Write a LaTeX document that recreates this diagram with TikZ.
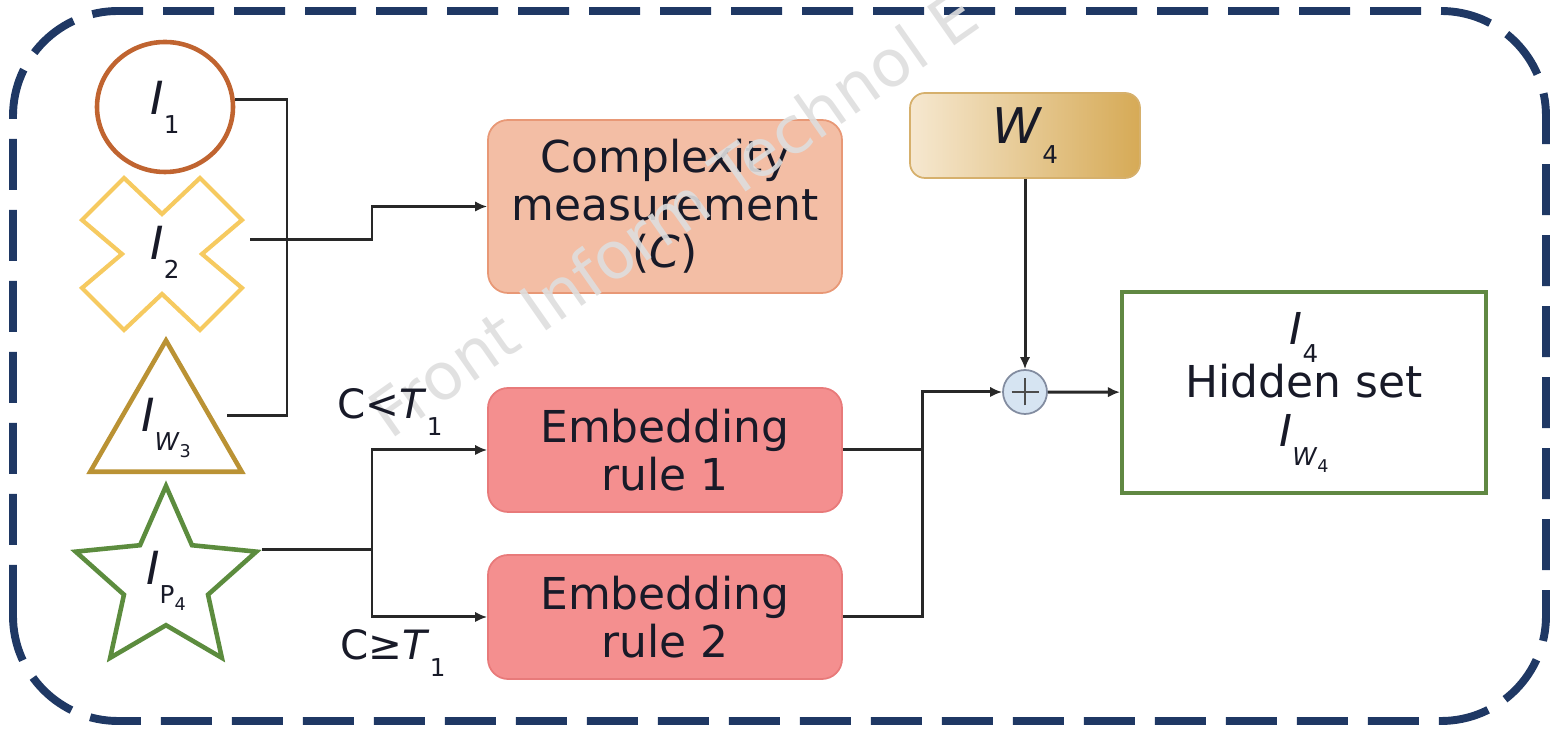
\documentclass[tikz,border=0pt]{standalone}
\usepackage{fontspec}
\setmainfont{DejaVu Sans}
\usetikzlibrary{shapes.geometric, arrows.meta}

\definecolor{framecol}{RGB}{31,56,100}
\definecolor{ringcol}{RGB}{192,100,48}
\definecolor{crosscol}{RGB}{246,202,96}
\definecolor{tricol}{RGB}{186,146,52}
\definecolor{starcol}{RGB}{92,140,62}
\definecolor{cfill}{RGB}{243,190,165}
\definecolor{cline}{RGB}{232,152,118}
\definecolor{efill}{RGB}{244,143,143}
\definecolor{eline}{RGB}{232,122,122}
\definecolor{wleft}{RGB}{246,232,208}
\definecolor{wright}{RGB}{214,170,86}
\definecolor{wline}{RGB}{214,176,108}
\definecolor{pfill}{RGB}{214,228,242}
\definecolor{pline}{RGB}{130,140,160}
\definecolor{hline}{RGB}{96,136,66}
\definecolor{wirecol}{RGB}{40,40,40}
\definecolor{textcol}{RGB}{24,26,40}
\definecolor{wmarkcol}{RGB}{222,222,222}

\newcommand{\sbig}{\fontsize{25}{27}\selectfont}
\newcommand{\lowsub}[1]{\raisebox{-0.42em}{\fontsize{14}{14}\selectfont #1}}
\newcommand{\lowsubsub}[1]{\raisebox{-0.3em}{\fontsize{10}{10}\selectfont #1}}

\tikzset{
    wire/.style={draw=wirecol, line width=1.7pt},
    arr/.style={wire, -{Latex[length=2.4mm, width=2.1mm]}},
    ring/.style={ellipse, draw=ringcol, line width=2.6pt, minimum width=2.72cm, minimum height=2.6cm, inner sep=0pt, text=textcol, font=\fontsize{26}{26}\selectfont},
    tri/.style={regular polygon, regular polygon sides=3, draw=tricol, line width=2.6pt, minimum size=3.5cm, inner sep=0pt, text=textcol, font=\fontsize{26}{26}\selectfont},
    starry/.style={star, star points=5, star point ratio=2.15, draw=starcol, line width=2.6pt, minimum size=3.8cm, inner sep=0pt, text=textcol, font=\fontsize{26}{26}\selectfont},
    crossline/.style={draw=crosscol, line width=2.4pt, line join=miter},
    sym/.style={inner sep=0pt, text=textcol, font=\fontsize{26}{26}\selectfont},
    cbox/.style={rectangle, rounded corners=0.4cm, draw=cline, fill=cfill, line width=1pt, minimum width=7.08cm, minimum height=3.46cm, align=center, text=textcol, font=\sbig},
    ebox/.style={cbox, draw=eline, fill=efill, minimum height=2.48cm},
    wbox/.style={rectangle, rounded corners=0.3cm, draw=wline, left color=wleft, right color=wright, line width=1pt, minimum width=4.6cm, minimum height=1.7cm, text=textcol, font=\fontsize{28}{28}\selectfont},
    adder/.style={circle, draw=pline, fill=pfill, line width=1pt, minimum size=0.88cm, inner sep=0pt,
        path picture={\draw[line width=1.2pt, black!70]
            ([xshift=-0.27cm]path picture bounding box.center) -- ([xshift=0.27cm]path picture bounding box.center)
            ([yshift=-0.27cm]path picture bounding box.center) -- ([yshift=0.27cm]path picture bounding box.center);}},
    hbox/.style={rectangle, draw=hline, line width=2.3pt, minimum width=7.28cm, minimum height=4.02cm, align=center, text=textcol, font=\fontsize{25}{28}\selectfont},
    cond/.style={anchor=base west, inner sep=0pt, text=textcol, font=\fontsize{23}{23}\selectfont},
    wmark/.style={anchor=base west, rotate=35, text=wmarkcol, opacity=0.9, font=\fontsize{37}{37}\selectfont},
    frame/.style={draw=framecol, line width=4.5pt, dash pattern=on 1.02cm off 0.4cm, rounded corners=2.1cm}
}

\begin{document}
\begin{tikzpicture}
    \useasboundingbox (0,0) rectangle (31.08,14.64);

    \draw [frame] (0.26,0.22) rectangle (30.92,14.42);

    \node [ring] (I1) at (3.3,12.5) {\textit{I}\lowsub{1}};
    \draw [crossline, shift={(3.24,9.56)}] (-1.6,0.68) -- (-0.76,1.52) -- (0,0.8) -- (0.76,1.52) -- (1.6,0.68) -- (0.8,0)
        -- (1.6,-0.68) -- (0.76,-1.52) -- (0,-0.8) -- (-0.76,-1.52) -- (-1.6,-0.68) -- (-0.8,0) -- cycle;
    \node [sym] (I2) at (3.3,9.6) {\textit{I}\lowsub{2}};
    \node [tri] (Iw3) at (3.32,6.08) {\textit{I}\lowsub{\textit{W}\lowsubsub{3}}};
    \node [starry] (Ip4) at (3.32,3.02) {\textit{I}\lowsub{P\lowsubsub{4}}};

    \node [cbox] (cm) at (13.3,10.51) {Complexity\\measurement\\(\textit{C})};
    \node [ebox] (rule1) at (13.3,5.64) {Embedding\\rule 1};
    \node [ebox] (rule2) at (13.3,2.3) {Embedding\\rule 2};

    \node [wmark] (wm) at (7.7,5.75) {Front Inform Technol E};

    \node [wbox] (w4) at (20.5,11.93) {\textit{W}\lowsub{4}};
    \node [adder] (plus) at (20.5,6.8) {};
    \node [hbox] (hidden) at (26.08,6.79) {\textit{I}\lowsub{4}\\Hidden set\\\textit{I}\lowsub{\textit{W}\lowsubsub{4}}};

    \node [cond] (lt) at (6.74,6.26) {C<\textit{T}\lowsub{1}};
    \node [cond] (ge) at (6.8,1.44) {C≥\textit{T}\lowsub{1}};

    \coordinate (bus) at (5.74,6.32);
    \coordinate (Iw3out) at (4.54,6.32);
    \coordinate (I2out) at (5.0,9.84);
    \coordinate (split) at (7.44,0);
    \coordinate (merge) at (18.44,0);

    \draw [wire] ([yshift=0.14cm]I1.east) -| (bus) -- (Iw3out);
    \draw [arr] (I2out) -- (I2out -| split) |- (cm.west);

    \draw [wire] (Ip4.outer point 5) -- (Ip4.outer point 5 -| split);
    \draw [arr] (split |- Ip4.outer point 5) |- (rule1.west);
    \draw [arr] (split |- Ip4.outer point 5) |- (rule2.west);

    \draw [wire] (rule1.east) -- (rule1.east -| merge);
    \draw [arr] (rule2.east) -| (merge |- plus) -- (plus.west);
    \draw [arr] (w4) -- (plus);
    \draw [arr] (plus) -- (hidden);
\end{tikzpicture}
\end{document}
